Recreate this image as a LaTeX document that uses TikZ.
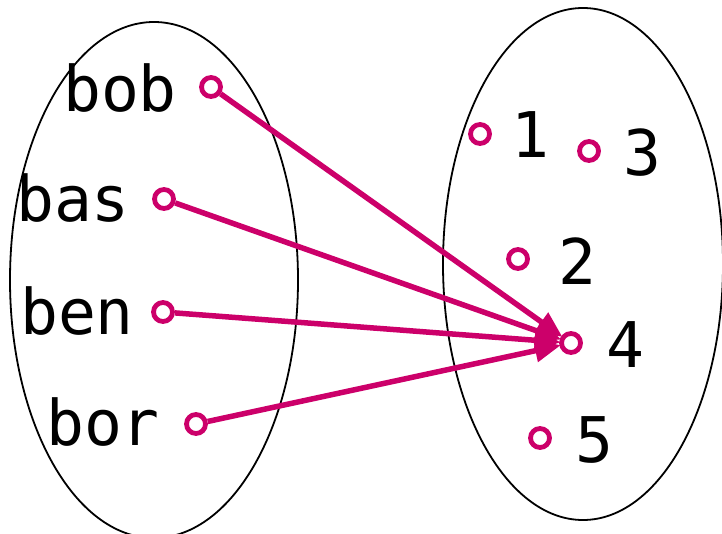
\documentclass[tikz,border=0pt]{standalone}
\usepackage{fontspec}
\setmonofont{DejaVu Sans Mono}
\usetikzlibrary{arrows.meta}
\definecolor{pinkdot}{RGB}{204,0,106}
\begin{document}
\begin{tikzpicture}[x=1pt,y=-1pt,
  dot/.style={circle,draw=pinkdot,line width=4.8pt,inner sep=0pt,minimum size=19pt},
  lbl/.style={anchor=base,inner sep=0pt,font=\fontsize{63}{63}\selectfont\ttfamily},
  maplink/.style={draw=pinkdot,line width=5.5pt,-{Triangle[length=26pt,width=22pt]},shorten >=-1.5pt}]
\useasboundingbox (0,0) rectangle (722,534);
% the two sets
\draw[line width=1.8pt] (154,280) ellipse [x radius=144, y radius=258];
\draw[line width=1.8pt] (583,264) ellipse [x radius=140, y radius=256];
% domain labels
\node[lbl] (tbob) at (120,112) {bob};
\node[lbl] (tbas) at (73,222) {bas};
\node[lbl] (tben) at (77,334) {ben};
\node[lbl] (tbor) at (103,445) {bor};
% codomain labels
\node[lbl] (t1) at (530,158) {1};
\node[lbl] (t3) at (642,176) {3};
\node[lbl] (t2) at (577,285) {2};
\node[lbl] (t4) at (625,367) {4};
\node[lbl] (t5) at (594,462) {5};
% element dots
\node[dot] (bob) at (211,87) {};
\node[dot] (bas) at (164,199) {};
\node[dot] (ben) at (163,312) {};
\node[dot] (bor) at (196,424) {};
\node[dot] (n1) at (480,134) {};
\node[dot] (n3) at (589,151) {};
\node[dot] (n2) at (518,259) {};
\node[dot] (n4) at (571,343) {};
\node[dot] (n5) at (540,438) {};
% the mapping
\foreach \src in {bob,bas,ben,bor}
  \draw[maplink] (\src) -- (n4);
\end{tikzpicture}
\end{document}
